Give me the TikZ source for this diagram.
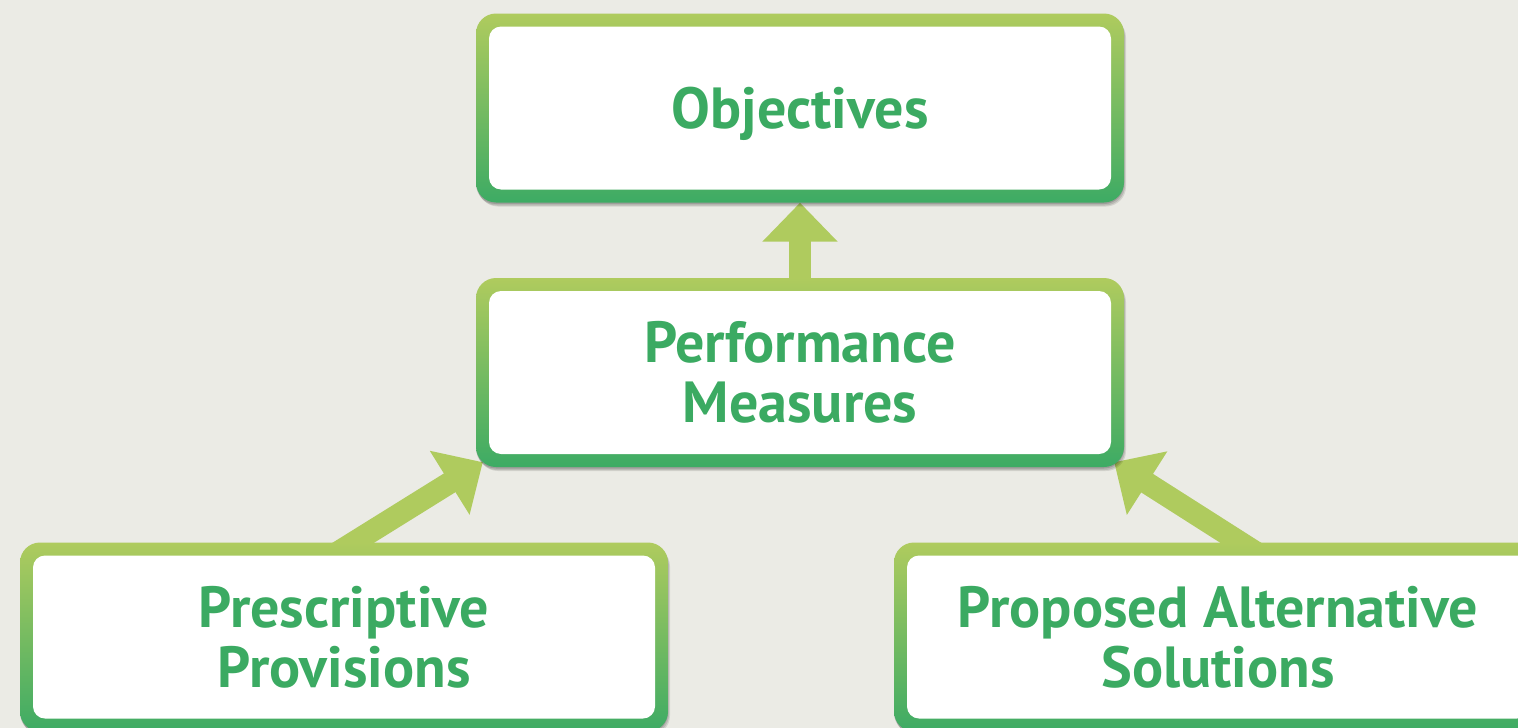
\documentclass[tikz,border=0pt]{standalone}
\usepackage{fontspec}
\setmainfont{PT Sans}
\usetikzlibrary{arrows.meta,calc,shadows}
\definecolor{bgc}{HTML}{EBEBE5}
\definecolor{lgreen}{HTML}{AFCB5E}
\definecolor{dgreen}{HTML}{3DAB64}
\definecolor{tgreen}{HTML}{3BAA62}
\pgfdeclarelayer{back}
\pgfdeclarelayer{bg}
\pgfsetlayers{back,bg,main}
\tikzset{
  box/.style={rounded corners=20pt, minimum width=648pt, minimum height=189pt,
    top color=lgreen, bottom color=dgreen, inner sep=0pt, align=center,
    text=tgreen, font=\bfseries\fontsize{58}{60}\selectfont,
    drop shadow={shadow xshift=2pt, shadow yshift=-4pt, opacity=.10, fill=black},
    drop shadow={shadow xshift=1pt, shadow yshift=-3pt, opacity=.12, fill=black},
    drop shadow={shadow xshift=0pt, shadow yshift=-1.5pt, opacity=.15, fill=black},
    path picture={\fill[white, rounded corners=12pt]
      ([shift={(13pt,13pt)}]path picture bounding box.south west) rectangle
      ([shift={(-13pt,-13pt)}]path picture bounding box.north east);}},
  arr/.style={draw=lgreen, line width=22pt, -{Triangle[length=39pt,width=73pt]}}
}
\begin{document}
\begin{tikzpicture}[x=1pt,y=-1pt]
\begin{pgfonlayer}{back}
\fill[bgc] (0,0) rectangle (1518,728);
\end{pgfonlayer}
\useasboundingbox (0,0) rectangle (1518,728);
\node[box, text depth=0pt] (obj) at (800,108) {Objectives};
\node[box] (perf) at (800,372.5) {Performance\\Measures};
\node[box] (pres) at (344,637) {Prescriptive\\Provisions};
\node[box] (prop) at (1218,637) {Proposed Alternative\\Solutions};
\coordinate (ls) at ($(pres.north)+(10,0)$);
\coordinate (lt) at ($(perf.south west)+(7,-5)$);
\coordinate (rs) at ($(prop.north)+(22,0)$);
\coordinate (rt) at ($(perf.south east)+(-10,-5)$);
\begin{pgfonlayer}{bg}
\draw[arr] ($(perf.north)+(0,10)$) -- (obj.south);
\draw[arr] ($(ls)!-25pt!(lt)$) -- (lt);
\draw[arr] ($(rs)!-25pt!(rt)$) -- (rt);
\end{pgfonlayer}
\end{tikzpicture}
\end{document}
